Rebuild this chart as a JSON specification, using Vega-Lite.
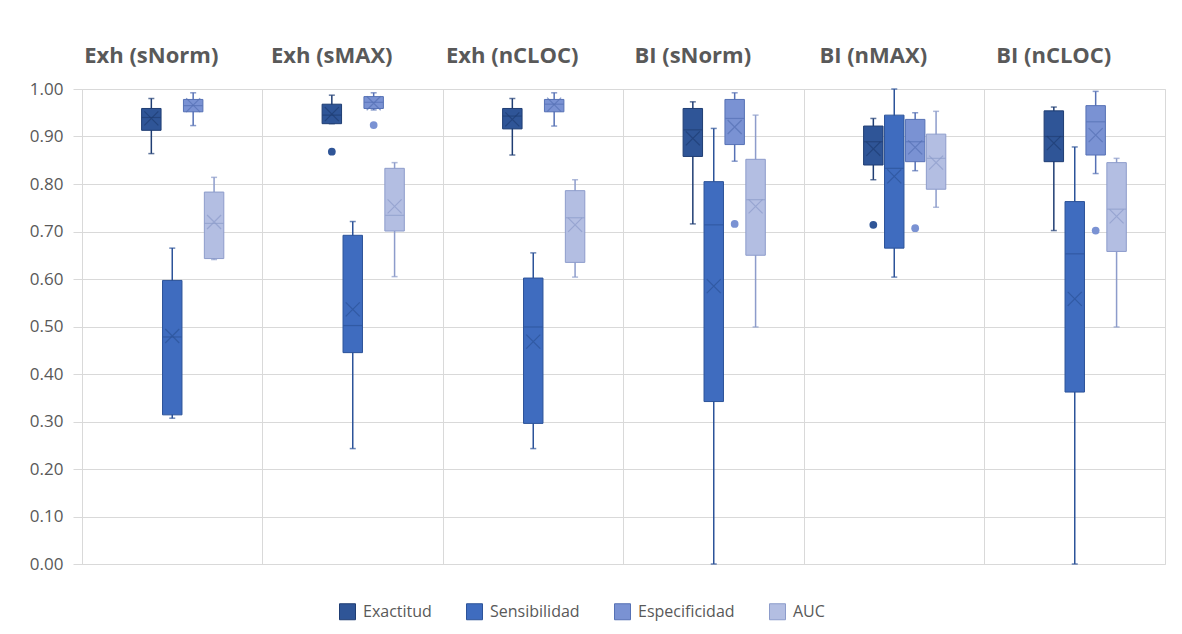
{
  "$schema": "https://vega.github.io/schema/vega-lite/v6.json",
  "width": 1083,
  "height": 475,
  "autosize": {"type": "none"},
  "padding": {"left": 82, "top": 89, "right": 17, "bottom": 70},
  "config": {"font": "Open Sans", "view": {"stroke": "#d9d9d9", "strokeWidth": 1}},
  "datasets": {
    "cajas": [
      {"grupo": "Exh (sNorm)", "serie": "Exactitud", "min": 0.864, "q1": 0.913, "mediana": 0.940, "q3": 0.959, "max": 0.980, "media": 0.938},
      {"grupo": "Exh (sNorm)", "serie": "Sensibilidad", "min": 0.307, "q1": 0.314, "mediana": 0.478, "q3": 0.597, "max": 0.665, "media": 0.480},
      {"grupo": "Exh (sNorm)", "serie": "Especificidad", "min": 0.923, "q1": 0.952, "mediana": 0.965, "q3": 0.978, "max": 0.992, "media": 0.966},
      {"grupo": "Exh (sNorm)", "serie": "AUC", "min": 0.641, "q1": 0.643, "mediana": 0.717, "q3": 0.783, "max": 0.814, "media": 0.720},
      {"grupo": "Exh (sMAX)", "serie": "Exactitud", "min": 0.927, "q1": 0.927, "mediana": 0.945, "q3": 0.968, "max": 0.987, "media": 0.947},
      {"grupo": "Exh (sMAX)", "serie": "Sensibilidad", "min": 0.243, "q1": 0.445, "mediana": 0.502, "q3": 0.692, "max": 0.721, "media": 0.536},
      {"grupo": "Exh (sMAX)", "serie": "Especificidad", "min": 0.956, "q1": 0.959, "mediana": 0.972, "q3": 0.984, "max": 0.992, "media": 0.970},
      {"grupo": "Exh (sMAX)", "serie": "AUC", "min": 0.605, "q1": 0.701, "mediana": 0.734, "q3": 0.833, "max": 0.845, "media": 0.753},
      {"grupo": "Exh (nCLOC)", "serie": "Exactitud", "min": 0.861, "q1": 0.916, "mediana": 0.943, "q3": 0.959, "max": 0.980, "media": 0.936},
      {"grupo": "Exh (nCLOC)", "serie": "Sensibilidad", "min": 0.243, "q1": 0.296, "mediana": 0.499, "q3": 0.602, "max": 0.655, "media": 0.468},
      {"grupo": "Exh (nCLOC)", "serie": "Especificidad", "min": 0.922, "q1": 0.952, "mediana": 0.968, "q3": 0.978, "max": 0.992, "media": 0.967},
      {"grupo": "Exh (nCLOC)", "serie": "AUC", "min": 0.604, "q1": 0.635, "mediana": 0.729, "q3": 0.786, "max": 0.809, "media": 0.714},
      {"grupo": "BI (sNorm)", "serie": "Exactitud", "min": 0.716, "q1": 0.858, "mediana": 0.914, "q3": 0.959, "max": 0.973, "media": 0.896},
      {"grupo": "BI (sNorm)", "serie": "Sensibilidad", "min": 0.0, "q1": 0.342, "mediana": 0.714, "q3": 0.805, "max": 0.917, "media": 0.585},
      {"grupo": "BI (sNorm)", "serie": "Especificidad", "min": 0.848, "q1": 0.883, "mediana": 0.938, "q3": 0.978, "max": 0.992, "media": 0.920},
      {"grupo": "BI (sNorm)", "serie": "AUC", "min": 0.499, "q1": 0.650, "mediana": 0.767, "q3": 0.852, "max": 0.945, "media": 0.753},
      {"grupo": "BI (nMAX)", "serie": "Exactitud", "min": 0.809, "q1": 0.840, "mediana": 0.889, "q3": 0.922, "max": 0.938, "media": 0.874},
      {"grupo": "BI (nMAX)", "serie": "Sensibilidad", "min": 0.604, "q1": 0.665, "mediana": 0.833, "q3": 0.945, "max": 1.0, "media": 0.816},
      {"grupo": "BI (nMAX)", "serie": "Especificidad", "min": 0.828, "q1": 0.847, "mediana": 0.889, "q3": 0.936, "max": 0.950, "media": 0.877},
      {"grupo": "BI (nMAX)", "serie": "AUC", "min": 0.751, "q1": 0.789, "mediana": 0.854, "q3": 0.905, "max": 0.953, "media": 0.845},
      {"grupo": "BI (nCLOC)", "serie": "Exactitud", "min": 0.702, "q1": 0.847, "mediana": 0.900, "q3": 0.954, "max": 0.962, "media": 0.886},
      {"grupo": "BI (nCLOC)", "serie": "Sensibilidad", "min": 0.0, "q1": 0.362, "mediana": 0.653, "q3": 0.763, "max": 0.878, "media": 0.558},
      {"grupo": "BI (nCLOC)", "serie": "Especificidad", "min": 0.822, "q1": 0.861, "mediana": 0.931, "q3": 0.965, "max": 0.995, "media": 0.903},
      {"grupo": "BI (nCLOC)", "serie": "AUC", "min": 0.499, "q1": 0.658, "mediana": 0.747, "q3": 0.845, "max": 0.854, "media": 0.732}
    ],
    "atipicos": [
      {"grupo": "Exh (sMAX)", "serie": "Exactitud", "valor": 0.868},
      {"grupo": "Exh (sMAX)", "serie": "Especificidad", "valor": 0.924},
      {"grupo": "BI (sNorm)", "serie": "Especificidad", "valor": 0.716},
      {"grupo": "BI (nMAX)", "serie": "Exactitud", "valor": 0.714},
      {"grupo": "BI (nMAX)", "serie": "Especificidad", "valor": 0.707},
      {"grupo": "BI (nCLOC)", "serie": "Especificidad", "valor": 0.702}
    ]
  },
  "data": {"name": "cajas"},
  "encoding": {
    "x": {
      "field": "grupo", "type": "nominal",
      "sort": ["Exh (sNorm)", "Exh (sMAX)", "Exh (nCLOC)", "BI (sNorm)", "BI (nMAX)", "BI (nCLOC)"],
      "scale": {"paddingInner": 0, "paddingOuter": 0},
      "axis": {
        "orient": "top", "bandPosition": 0, "grid": true, "gridColor": "#d9d9d9", "gridWidth": 1,
        "ticks": false, "tickSize": 0, "domain": false, "labelAngle": 0,
        "labelFontWeight": "bold", "labelFontSize": 22, "labelColor": "#595959",
        "labelOffset": -21, "labelPadding": 27, "labelBaseline": "alphabetic", "title": null
      }
    },
    "xOffset": {
      "field": "serie", "type": "nominal",
      "scale": {"domain": ["·1", "·2", "Exactitud", "Sensibilidad", "Especificidad", "AUC", "·3"], "paddingInner": 0.07, "paddingOuter": 0.85}
    }
  },
  "layer": [
    {
      "mark": {"type": "rule", "strokeWidth": 1.5},
      "encoding": {
        "y": {
          "field": "min", "type": "quantitative",
          "scale": {"domain": [0, 1], "nice": false},
          "axis": {
            "values": [0, 0.1, 0.2, 0.3, 0.4, 0.5, 0.6, 0.7, 0.8, 0.9, 1.0], "format": ".2f",
            "labelFontSize": 17, "labelColor": "#595959", "tickSize": 9, "tickColor": "#d9d9d9",
            "labelPadding": 10, "domain": false, "gridColor": "#d9d9d9", "title": null
          }
        },
        "y2": {"field": "max"},
        "color": {"field": "serie", "type": "nominal", "scale": {"domain": ["AUC", "Especificidad", "Sensibilidad", "Exactitud"], "range": ["#8d9ccb", "#5671b5", "#2c5399", "#1f3d73"]}, "legend": null}
      }
    },
    {
      "mark": {"type": "tick", "size": 6, "thickness": 1.5},
      "encoding": {
        "y": {"field": "min", "type": "quantitative"},
        "color": {"field": "serie", "type": "nominal", "legend": null}
      }
    },
    {
      "mark": {"type": "tick", "size": 6, "thickness": 1.5},
      "encoding": {
        "y": {"field": "max", "type": "quantitative"},
        "color": {"field": "serie", "type": "nominal", "legend": null}
      }
    },
    {
      "mark": {"type": "bar"},
      "encoding": {
        "y": {"field": "q1", "type": "quantitative"},
        "y2": {"field": "q3"},
        "fill": {
          "field": "serie", "type": "nominal",
          "scale": {"domain": ["Exactitud", "Sensibilidad", "Especificidad", "AUC"], "range": ["#2f5597", "#3f6cbf", "#7a92d3", "#b3bee2"]},
          "legend": {
            "orient": "none", "legendX": 257, "legendY": 514, "direction": "horizontal", "title": null,
            "symbolType": "square", "symbolSize": 256, "symbolStrokeWidth": 1, "symbolOpacity": 1,
            "labelFontSize": 16, "labelColor": "#595959", "labelOffset": 7, "columnPadding": 32, "padding": 0,
            "encode": {"symbols": {"update": {"stroke": {"scale": "color", "field": "value"}}}}
          }
        }
      }
    },
    {
      "mark": {"type": "bar", "filled": false, "strokeWidth": 1},
      "encoding": {
        "y": {"field": "q1", "type": "quantitative"},
        "y2": {"field": "q3"},
        "color": {"field": "serie", "type": "nominal", "legend": null}
      }
    },
    {
      "mark": {"type": "tick", "size": 19, "thickness": 1.2},
      "encoding": {
        "y": {"field": "mediana", "type": "quantitative"},
        "color": {"field": "serie", "type": "nominal", "legend": null}
      }
    },
    {
      "mark": {"type": "point", "shape": "M-1,-1L1,1M-1,1L1,-1", "filled": false, "size": 196, "strokeWidth": 1.2},
      "encoding": {
        "y": {"field": "media", "type": "quantitative"},
        "color": {"field": "serie", "type": "nominal", "legend": null}
      }
    },
    {
      "data": {"name": "atipicos"},
      "mark": {"type": "point", "shape": "circle", "filled": true, "size": 60, "opacity": 1},
      "encoding": {
        "y": {"field": "valor", "type": "quantitative"},
        "fill": {"field": "serie", "type": "nominal"}
      }
    }
  ]
}
